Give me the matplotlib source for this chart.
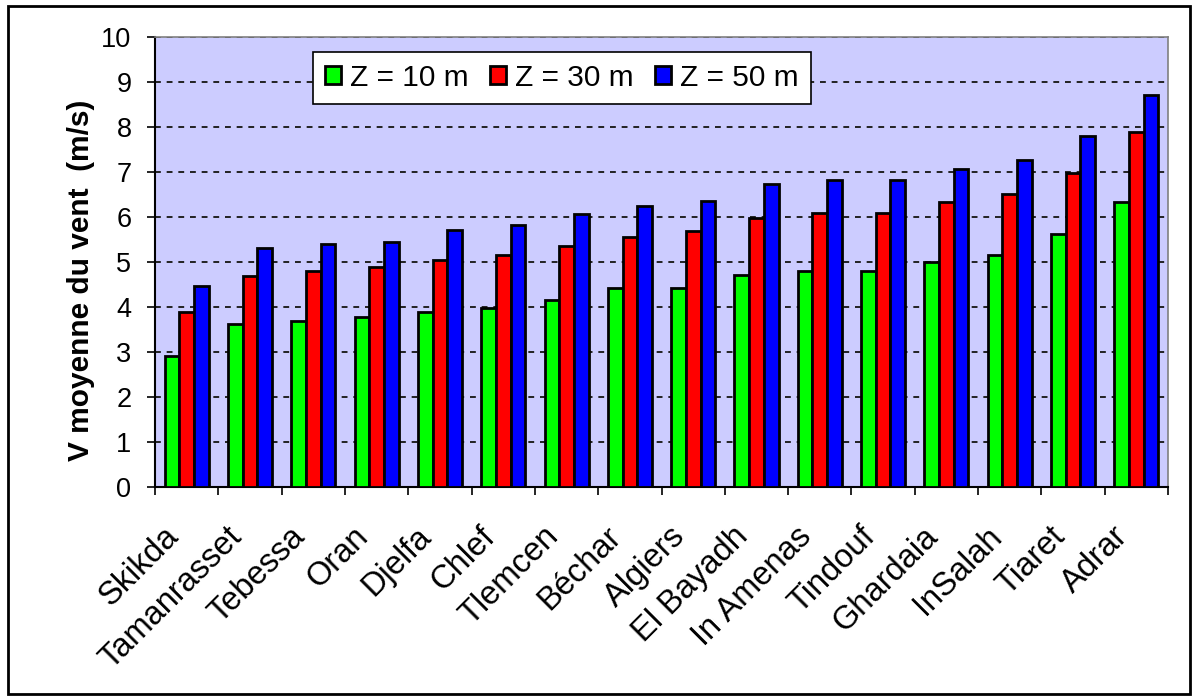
import numpy as np
import matplotlib
matplotlib.use("Agg")
import matplotlib.pyplot as plt
import matplotlib.transforms as mtransforms
from matplotlib.patches import Rectangle

plt.rcParams['font.family'] = ['Liberation Sans', 'DejaVu Sans']

sites = ["Skikda", "Tamanrasset", "Tebessa", "Oran", "Djelfa", "Chlef", "Tlemcen",
         "Béchar", "Algiers", "El Bayadh", "In Amenas", "Tindouf", "Ghardaia",
         "InSalah", "Tiaret", "Adrar"]
v10 = [2.91, 3.63, 3.69, 3.78, 3.88, 3.98, 4.16, 4.43, 4.43, 4.71, 4.79, 4.79, 4.99, 5.16, 5.62, 6.34]
v30 = [3.89, 4.68, 4.79, 4.88, 5.04, 5.16, 5.36, 5.55, 5.69, 5.97, 6.08, 6.08, 6.33, 6.52, 6.98, 7.88]
v50 = [4.47, 5.32, 5.41, 5.45, 5.71, 5.82, 6.06, 6.25, 6.36, 6.73, 6.82, 6.82, 7.06, 7.26, 7.79, 8.71]
series = ["Z = 10 m", "Z = 30 m", "Z = 50 m"]
colors = ["#00FF00", "#FF0000", "#0000FF"]

fig = plt.figure(figsize=(11.98, 6.97), dpi=100)
ax = fig.add_axes([0.1294, 0.3013, 0.8456, 0.6456])
ax.set_facecolor("#CCCCFF")

x = np.arange(len(sites))
w = 0.232
for i, (vals, lab, c) in enumerate(zip([v10, v30, v50], series, colors)):
    ax.bar(x + (i - 1) * w, vals, w, color=c, edgecolor="black", linewidth=2,
           label=lab, zorder=3)

ax.set_xlim(-0.5, len(sites) - 0.5)
ax.set_ylim(0, 10)
ax.set_yticks(range(0, 11))
ax.yaxis.grid(True, color="#222222", linestyle=(0, (3, 3)), linewidth=1.4, zorder=1)
ax.set_axisbelow(True)

# ticks sit on the group boundaries; site names are drawn under each group
ax.set_xticks(np.arange(-0.5, len(sites)))
ax.set_xticklabels([])
ax.tick_params(axis="x", length=6, width=1.2, direction="out", color="black")
ax.tick_params(axis="y", length=6, width=1.2, direction="out", labelsize=19.5, pad=11)

offset = mtransforms.ScaledTranslation(-0.24, -0.34, fig.dpi_scale_trans)
for xi, name in zip(x, sites):
    ax.text(xi, 0, name, transform=ax.get_xaxis_transform() + offset,
            fontsize=23.5, rotation=45, ha="right", va="top", rotation_mode="anchor")

for s in ["left", "bottom"]:
    ax.spines[s].set_color("black")
    ax.spines[s].set_linewidth(1.5)
for s in ["top", "right"]:
    ax.spines[s].set_color("#808080")
    ax.spines[s].set_linewidth(1.2)

ax.set_ylabel("V moyenne du vent  (m/s)", fontsize=21.5, fontweight="bold")
ax.yaxis.set_label_coords(-0.059, 0.46)

leg = ax.legend(loc="upper left", bbox_to_anchor=(0.156, 0.967), ncol=3, fontsize=21.5,
                frameon=True, fancybox=False, edgecolor="black", framealpha=1,
                handlelength=0.55, handleheight=0.55, handletextpad=0.3,
                columnspacing=0.7, borderpad=0.4, borderaxespad=0)
leg.get_frame().set_linewidth(1.2)

fig.patches.append(Rectangle((0.007, 0.004), 0.986, 0.988, transform=fig.transFigure,
                             fill=False, edgecolor="black", linewidth=2))

fig.savefig("out.png", dpi=100)
